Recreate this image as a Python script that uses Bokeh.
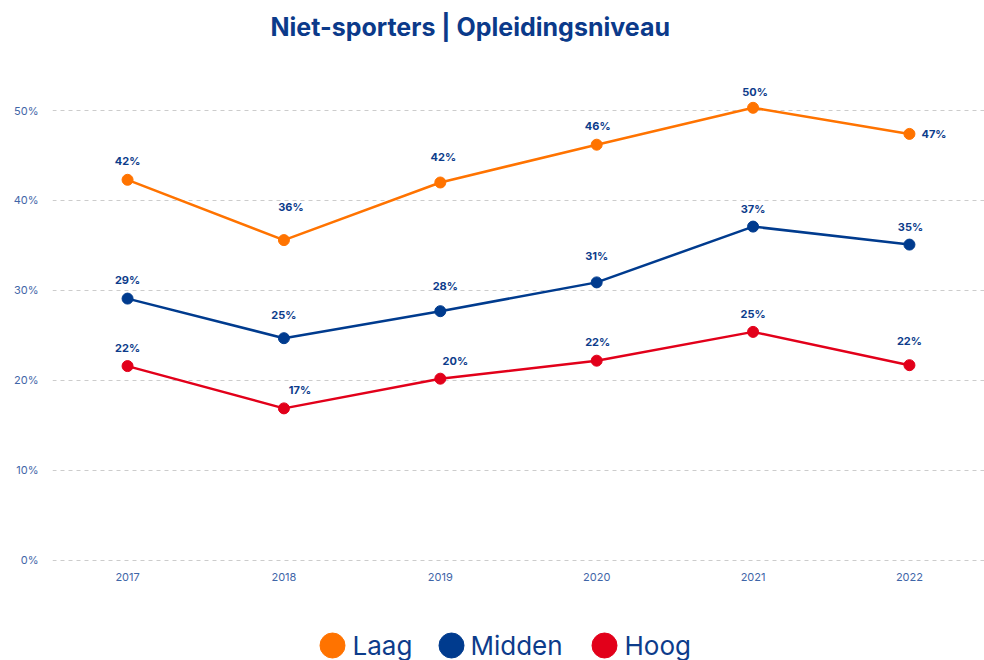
from bokeh.plotting import figure
from bokeh.layouts import column
from bokeh.models import (ColumnDataSource, FixedTicker, CustomJSTickFormatter, Range1d)
from bokeh.core.properties import value
from bokeh.embed import file_html
from bokeh.resources import INLINE

years = [2017, 2018, 2019, 2020, 2021, 2022]
laag = [42.3, 35.6, 42.0, 46.2, 50.3, 47.4]
midden = [29.1, 24.7, 27.7, 30.9, 37.1, 35.1]
hoog = [21.6, 16.9, 20.2, 22.2, 25.4, 21.7]
y_ticks = [0, 10, 20, 30, 40, 50]
series_names = ["Laag", "Midden", "Hoog"]

# label placement (screen px offsets), kept separate from data
label_dx = {"Laag": [0, 7, 3, 1, 2, 12], "Midden": [0, 0, 5, 0, 0, 1], "Hoog": [0, 16, 15, 1, 0, 0]}
label_dy = {"Laag": [19, 33, 25, 19, 16, 0], "Midden": [19, 23, 25, 26, 18, 18], "Hoog": [18, 18, 18, 19, 18, 24]}
label_align = {"Laag": ["center"] * 5 + ["left"], "Midden": ["center"] * 6, "Hoog": ["center"] * 6}

# legend strip layout (screen px)
legend_marker_x = [332, 451, 604]
legend_text_x = [352, 470, 624]
legend_y = 15

colors = {"Laag": "#ff7300", "Midden": "#003b8e", "Hoog": "#e2001a"}
TXT = "#0d3c8b"
AX = "#3f66a8"

p = figure(width=984, height=612, output_backend="svg", toolbar_location=None,
           x_range=Range1d(2016.52, 2022.48), y_range=Range1d(-0.67, 56.89),
           min_border_left=52, min_border_right=0, min_border_top=48, min_border_bottom=46)
p.title.text = "Niet-sporters | Opleidingsniveau"
p.title.text_font = "Inter"
p.title.text_font_size = "25px"
p.title.text_font_style = "bold"
p.title.text_color = "#0b3a8a"
p.title.align = "left"
p.title.vertical_align = "middle"
p.title.offset = 218
p.title.standoff = 12
p.outline_line_color = None

p.xgrid.grid_line_color = None
p.ygrid.grid_line_color = "#cccccc"
p.ygrid.grid_line_dash = "4 4"
p.ygrid.ticker = FixedTicker(ticks=y_ticks)

p.yaxis.ticker = FixedTicker(ticks=y_ticks)
p.yaxis.formatter = CustomJSTickFormatter(code="return tick + '%';")
p.xaxis.ticker = FixedTicker(ticks=years)
for ax in (p.xaxis[0], p.yaxis[0]):
    ax.axis_line_color = None
    ax.major_tick_line_color = None
    ax.minor_tick_line_color = None
    ax.major_tick_out = 0
    ax.major_tick_in = 0
    ax.major_label_text_font = "Inter"
    ax.major_label_text_font_size = "11px"
    ax.major_label_text_color = AX
p.yaxis.major_label_standoff = 14
p.xaxis.major_label_standoff = 6

data = {"Laag": laag, "Midden": midden, "Hoog": hoog}
for name in series_names:
    vals = data[name]
    src = ColumnDataSource(dict(
        x=years, y=vals,
        t=[f"{round(v)}%" for v in vals],
        dx=label_dx[name], dy=[-d for d in label_dy[name]], al=label_align[name]))
    p.line("x", "y", source=src, line_color=colors[name], line_width=2.5)
    p.scatter("x", "y", source=src, size=11, marker="circle",
              fill_color=colors[name], line_color=colors[name])
    p.text("x", "y", text="t", source=src, x_offset="dx", y_offset="dy",
           text_align="al", text_baseline="middle",
           text_font=value("Inter"), text_font_size="11px", text_font_style="bold",
           text_color=TXT)

# legend strip below the chart (its frame lines up with the chart frame: 52..984 px)
lg = figure(width=984, height=48, output_backend="svg", toolbar_location=None,
            x_axis_type=None, y_axis_type=None, x_range=Range1d(52, 984), y_range=Range1d(0, 48),
            min_border_left=52, min_border_right=0, min_border_top=0, min_border_bottom=0,
            outline_line_color=None)
lg.xgrid.grid_line_color = None
lg.ygrid.grid_line_color = None
lsrc = ColumnDataSource(dict(
    mx=legend_marker_x, tx=legend_text_x, y=[legend_y] * 3,
    name=series_names, c=[colors[n] for n in series_names]))
lg.scatter("mx", "y", source=lsrc, size=25, marker="circle", fill_color="c", line_color="c")
lg.text("tx", "y", text="name", source=lsrc, text_align="left", text_baseline="middle",
        text_font=value("Inter"), text_font_size="26px", text_color=TXT)

layout = column(p, lg, spacing=0)
open("out.html", "w").write(file_html(layout, INLINE))
